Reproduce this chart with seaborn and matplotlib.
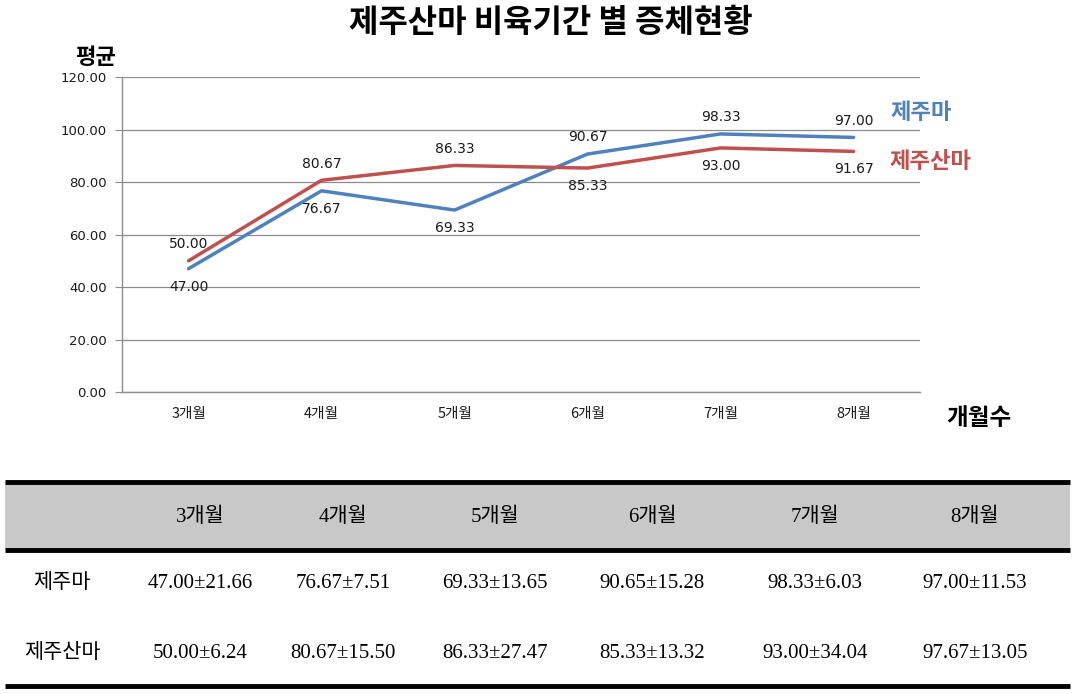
import matplotlib
matplotlib.use("Agg")
import matplotlib.pyplot as plt
import numpy as np
import pandas as pd
import seaborn as sns

# chart data
months = ["3개월", "4개월", "5개월", "6개월", "7개월", "8개월"]
jeju = [47.00, 76.67, 69.33, 90.67, 98.33, 97.00]
jeju_cross = [50.00, 80.67, 86.33, 85.33, 93.00, 91.67]
series_names = ["제주마", "제주산마"]

# table data (mean ± sd)
tbl_jeju_mean = ["47.00", "76.67", "69.33", "90.65", "98.33", "97.00"]
tbl_jeju_sd = ["21.66", "7.51", "13.65", "15.28", "6.03", "11.53"]
tbl_cross_mean = ["50.00", "80.67", "86.33", "85.33", "93.00", "97.67"]
tbl_cross_sd = ["6.24", "15.50", "27.47", "13.32", "34.04", "13.05"]

sns.set_style("white")
plt.rcParams['font.family'] = ['Noto Sans CJK KR', 'DejaVu Sans']
plt.rcParams['text.color'] = 'black'

blue = "#4F81BD"
red = "#C0504D"
grid_c = "#8c8c8c"

df = pd.DataFrame({
    "month": months * 2,
    "value": jeju + jeju_cross,
    "series": [series_names[0]] * 6 + [series_names[1]] * 6,
})

fig = plt.figure(figsize=(10.77, 6.94), dpi=100)
ax = fig.add_axes([0.1133, 0.435, 0.741, 0.454])

sns.lineplot(data=df, x="month", y="value", hue="series",
             palette={series_names[0]: blue, series_names[1]: red},
             linewidth=2.5, legend=False, ax=ax, sort=False)

ax.set_xlim(-0.5, 5.5)
ax.set_ylim(0, 120)
ax.set_yticks(np.arange(0, 121, 20))
ax.set_yticklabels([f"{v:.2f}" for v in np.arange(0, 121, 20)],
                   family="DejaVu Sans", fontsize=9.5, color="#1a1a1a")
ax.set_xticks(range(6))
ax.set_xticklabels(months, fontsize=10.5, color="#1a1a1a")
ax.set_xticks(np.arange(-0.5, 6, 1), minor=True)
ax.tick_params(axis="x", which="major", length=0, pad=11)
ax.tick_params(axis="x", which="minor", length=5, color=grid_c, direction="out")
ax.tick_params(axis="y", length=5, color=grid_c, direction="out", left=True, pad=6)
ax.yaxis.grid(True, color=grid_c, linewidth=0.9)
ax.set_axisbelow(True)
for s in ["top", "right"]:
    ax.spines[s].set_visible(False)
for s in ["left", "bottom"]:
    ax.spines[s].set_color(grid_c)
    ax.spines[s].set_linewidth(1.0)
ax.set_xlabel("")
ax.set_ylabel("")

# data labels
blue_above = [False, False, False, True, True, True]
red_above = [True, True, True, False, False, False]
for i, (b, r) in enumerate(zip(jeju, jeju_cross)):
    ax.annotate(f"{b:.2f}", (i, b), xytext=(0, 12 if blue_above[i] else -13),
                textcoords="offset points", ha="center", va="center",
                fontsize=10, family="DejaVu Sans", color="#1a1a1a")
    ax.annotate(f"{r:.2f}", (i, r), xytext=(0, 12 if red_above[i] else -13),
                textcoords="offset points", ha="center", va="center",
                fontsize=10, family="DejaVu Sans", color="#1a1a1a")

# titles and labels
fig.text(0.511, 0.967, "제주산마 비육기간 별 증체현황", ha="center", va="center",
         fontsize=23, fontweight="heavy")
fig.text(0.089, 0.917, "평균", ha="center", va="center", fontsize=16, fontweight="heavy")
fig.text(0.909, 0.397, "개월수", ha="center", va="center", fontsize=17, fontweight="heavy")
fig.text(0.827, 0.838, series_names[0], ha="left", va="center", fontsize=16,
         fontweight="bold", color=blue)
fig.text(0.826, 0.767, series_names[1], ha="left", va="center", fontsize=16,
         fontweight="bold", color=red)

# table
tax = fig.add_axes([0, 0, 1, 1])
tax.set_xlim(0, 1077)
tax.set_ylim(694, 0)
tax.axis("off")
tax.fill_between([5, 1070], 482, 549, color="#c8c8c8", linewidth=0)
for y in [482, 550, 686]:
    tax.plot([5, 1070], [y, y], color="black", linewidth=3.5, solid_capstyle="butt")

col_x = [200, 343, 495, 652, 815, 975]
tfont = ['Liberation Serif', 'Noto Sans CJK KR']
for x, m in zip(col_x, months):
    tax.text(x, 517, m, ha="center", va="center", fontsize=15, family=tfont)
tax.text(62, 584, series_names[0], ha="center", va="center", fontsize=15, family=tfont)
tax.text(62, 654, series_names[1], ha="center", va="center", fontsize=15, family=tfont)
for x, m, s in zip(col_x, tbl_jeju_mean, tbl_jeju_sd):
    tax.text(x, 584, f"{m}±{s}", ha="center", va="center", fontsize=15, family=tfont)
for x, m, s in zip(col_x, tbl_cross_mean, tbl_cross_sd):
    tax.text(x, 654, f"{m}±{s}", ha="center", va="center", fontsize=15, family=tfont)

fig.savefig("out.png", dpi=100)
